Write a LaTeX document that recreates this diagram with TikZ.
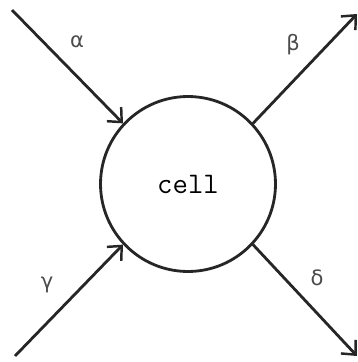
\documentclass[tikz,border=0pt]{standalone}
\usepackage{fontspec}
\usepackage{tikz}
\usetikzlibrary{arrows.meta,positioning}
\newfontfamily\greekfont{DejaVu Sans}
\tikzset{
  cellnode/.style={
    circle,
    draw=black!85,
    line width=1.6pt,
    minimum size=3.5cm,
    font=\ttfamily\fontsize{17}{19}\selectfont
  },
  flow/.style={-{Straight Barb[length=2.2mm,width=4mm,line width=1.4pt]}, line width=1.6pt, draw=black!85},
  greek/.style={font=\greekfont\fontsize{12}{14}\selectfont, text=black!70}
}
\begin{document}
\begin{tikzpicture}[x=0.02cm,y=-0.02cm]
\useasboundingbox (0,0) rectangle (358,362);

\node[cellnode] (cell) at (188,184) {cell};

\coordinate (alphaend) at (12,10);
\coordinate (betaend) at (357,14);
\coordinate (gammaend) at (15,356);
\coordinate (deltaend) at (357,356);

\draw[flow] (alphaend) -- (cell.137);
\draw[flow] (cell.43) -- (betaend);
\draw[flow] (gammaend) -- (cell.223);
\draw[flow] (cell.317) -- (deltaend);

\node[greek] (alpha) at (77,42) {α};
\node[greek] (beta) at (293,45) {β};
\node[greek] (gamma) at (47,285) {γ};
\node[greek] (delta) at (317,278) {δ};

\end{tikzpicture}
\end{document}
